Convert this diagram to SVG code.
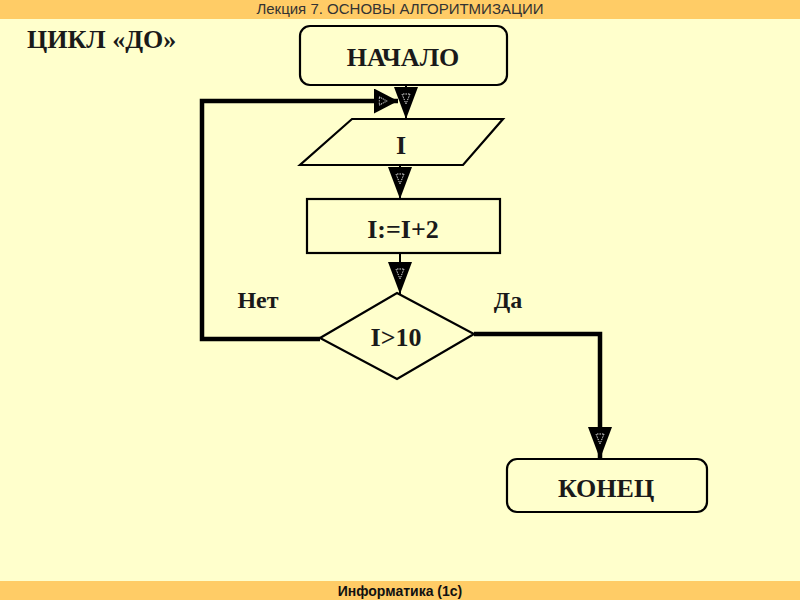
<svg xmlns="http://www.w3.org/2000/svg" width="800" height="600" viewBox="0 0 800 600">
<style>
.bar{fill:#FFCC66}
.shape{fill:none;stroke:#000;stroke-width:2.2}
.lbl{font-family:"Liberation Serif","Times New Roman",serif;font-weight:bold;font-size:26px;fill:#1a1a1a;text-anchor:middle}
.thin{fill:none;stroke:#000;stroke-width:2}
.thick{fill:none;stroke:#000;stroke-width:4.5}
.hdr{font-family:"Liberation Sans",Arial,sans-serif;font-size:15px;fill:#333;text-anchor:middle}
</style>
<defs>
<marker id="ah" markerUnits="userSpaceOnUse" viewBox="0 0 32 24" refX="32" refY="12" markerWidth="32" markerHeight="24" orient="auto">
<path d="M0,0 L32,12 L0,24 Z" fill="#000"/>
<path d="M7,8 L17,12 L7,16 Z" fill="none" stroke="#ddd" stroke-width="1" stroke-dasharray="1.5 1"/>
</marker>
<marker id="ahs" markerUnits="userSpaceOnUse" viewBox="0 0 32 24" refX="32" refY="12" markerWidth="24" markerHeight="25" orient="auto" preserveAspectRatio="none">
<path d="M0,0 L32,12 L0,24 Z" fill="#000"/>
<path d="M7,8 L17,12 L7,16 Z" fill="none" stroke="#ddd" stroke-width="1" stroke-dasharray="1.5 1"/>
</marker>
</defs>
<rect width="800" height="600" fill="#FFFFCC"/>
<rect class="bar" x="0" y="0" width="800" height="19"/>
<rect class="bar" x="0" y="581" width="800" height="19"/>
<text class="hdr" x="400" y="14">Лекция 7. ОСНОВЫ АЛГОРИТМИЗАЦИИ</text>
<text class="hdr" x="400" y="596" style="font-weight:bold;font-size:14px;fill:#111">Информатика (1с)</text>
<text x="27" y="48" style="font-family:'Liberation Serif','Times New Roman',serif;font-weight:bold;font-size:26px;fill:#1a1a1a">ЦИКЛ «ДО»</text>

<g id="connectors">
<path class="thin" d="M406,85 V119" marker-end="url(#ah)"/>
<path class="thin" d="M400,165 V199" marker-end="url(#ah)"/>
<path class="thin" d="M400,253 V294" marker-end="url(#ah)"/>
<path class="thick" d="M320,339 H202 V101 H398" marker-end="url(#ahs)"/>
<path class="thick" d="M474,334 H600 V459" marker-end="url(#ah)"/>
</g>

<g id="start">
<rect class="shape" x="300" y="26" width="207" height="59" rx="10"/>
<text class="lbl" x="403" y="66">НАЧАЛО</text>
</g>
<g id="input">
<polygon class="shape" points="352,119 503,119 463,165 300,165"/>
<text class="lbl" x="401" y="154">I</text>
</g>
<g id="assign">
<rect class="shape" x="307" y="199" width="193" height="54"/>
<text class="lbl" x="403" y="238">I:=I+2</text>
</g>
<g id="cond">
<polygon class="shape" points="397,293 474,334 397,379 320,338"/>
<text class="lbl" x="396" y="346">I&gt;10</text>
</g>
<g id="labels">
<text class="lbl" x="258" y="308" style="font-size:24px">Нет</text>
<text class="lbl" x="508" y="308" style="font-size:24px">Да</text>
</g>
<g id="end">
<rect class="shape" x="507" y="459" width="200" height="53" rx="10"/>
<text class="lbl" x="606" y="497">КОНЕЦ</text>
</g>
</svg>
